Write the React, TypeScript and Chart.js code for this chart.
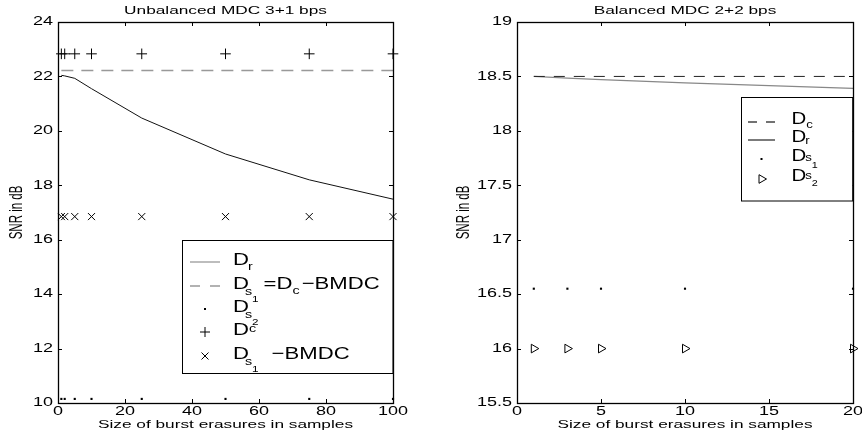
import { useEffect, useRef } from 'react';
import { Chart, registerables } from 'chart.js';
Chart.register(...registerables);

// ---------- data ----------
const xLabel = 'Size of burst erasures in samples';
const yLabel = 'SNR in dB';

const leftTitle = 'Unbalanced MDC 3+1 bps';
const leftBurst = [1, 2, 5, 10, 25, 50, 75, 100];
const leftDr = [22.04, 22.02, 21.93, 21.55, 20.47, 19.15, 18.2, 17.49];
const leftDs1EqDcBMDC = [22.22, 22.22, 22.22, 22.22, 22.22, 22.22, 22.22, 22.22];
const leftDs2 = [10.15, 10.15, 10.15, 10.15, 10.15, 10.15, 10.15, 10.15];
const leftDc = [22.83, 22.83, 22.83, 22.83, 22.83, 22.83, 22.83, 22.83];
const leftDs1BMDC = [16.85, 16.85, 16.85, 16.85, 16.85, 16.85, 16.85, 16.85];
const leftXTicks = [0, 20, 40, 60, 80, 100];
const leftYTicks = [10, 12, 14, 16, 18, 20, 22, 24];
const leftYTickLabels = ['10', '12', '14', '16', '18', '20', '22', '24'];

const rightTitle = 'Balanced MDC 2+2 bps';
const rightBurst = [1, 3, 5, 10, 20];
const rightDc = [18.5, 18.5, 18.5, 18.5, 18.5];
const rightDr = [18.5, 18.485, 18.47, 18.44, 18.39];
const rightDs1 = [16.55, 16.55, 16.55, 16.55, 16.55];
const rightDs2 = [16.0, 16.0, 16.0, 16.0, 16.0];
const rightXTicks = [0, 5, 10, 15, 20];
const rightYTicks = [15.5, 16, 16.5, 17, 17.5, 18, 18.5, 19];
const rightYTickLabels = ['15.5', '16', '16.5', '17', '17.5', '18', '18.5', '19'];

// ---------- helpers ----------
const FONT = '"Liberation Sans", Arial, Helvetica, sans-serif';
const SX = 1.5;

const pts = (xs: number[], ys: number[]) => xs.map((x, i) => ({ x, y: ys[i] }));

function sText(ctx: CanvasRenderingContext2D, s: string, x: number, y: number, size: number, sx: number, align: CanvasTextAlign, base: CanvasTextBaseline) {
  ctx.save();
  ctx.font = `${size}px ${FONT}`;
  ctx.translate(x, y);
  ctx.scale(sx, 1);
  ctx.textAlign = align;
  ctx.textBaseline = base;
  ctx.fillStyle = '#000';
  ctx.fillText(s, 0, 0);
  ctx.restore();
}

type Seg = { t: string; size?: number; dy?: number; dx?: number };
type LegendItem = { kind: 'solid' | 'dashed' | 'dot' | 'plus' | 'x' | 'tri'; color: string; y: number; segs: Seg[]; dash?: number[] };
type LegendCfg = { box: [number, number, number, number]; sampleX: [number, number]; textX: number; baseOff: number; items: LegendItem[]; size: number; sx: number };

function drawLegend(ctx: CanvasRenderingContext2D, lg: LegendCfg) {
  const [l, t, r, b] = lg.box;
  ctx.save();
  ctx.fillStyle = '#fff';
  ctx.fillRect(l, t, r - l, b - t);
  ctx.strokeStyle = '#000';
  ctx.lineWidth = 1;
  ctx.strokeRect(l, t, r - l, b - t);
  const [sx0, sx1] = lg.sampleX;
  const cx = (sx0 + sx1) / 2;
  for (const it of lg.items) {
    ctx.strokeStyle = it.color;
    ctx.fillStyle = it.color;
    ctx.setLineDash([]);
    ctx.lineWidth = 1;
    ctx.beginPath();
    if (it.kind === 'solid' || it.kind === 'dashed') {
      if (it.kind === 'dashed') ctx.setLineDash(it.dash || [10, 10]);
      ctx.lineWidth = 1.3;
      ctx.moveTo(sx0, it.y);
      ctx.lineTo(sx1, it.y);
      ctx.stroke();
    } else if (it.kind === 'dot') {
      ctx.fillRect(cx - 1, it.y - 1, 2, 2);
    } else if (it.kind === 'plus') {
      ctx.moveTo(cx - 5, it.y); ctx.lineTo(cx + 5, it.y);
      ctx.moveTo(cx, it.y - 5); ctx.lineTo(cx, it.y + 5);
      ctx.stroke();
    } else if (it.kind === 'x') {
      ctx.moveTo(cx - 3.5, it.y - 3.5); ctx.lineTo(cx + 3.5, it.y + 3.5);
      ctx.moveTo(cx - 3.5, it.y + 3.5); ctx.lineTo(cx + 3.5, it.y - 3.5);
      ctx.stroke();
    } else if (it.kind === 'tri') {
      ctx.moveTo(cx + 5, it.y);
      ctx.lineTo(cx - 2.5, it.y - 4.3);
      ctx.lineTo(cx - 2.5, it.y + 4.3);
      ctx.closePath();
      ctx.stroke();
    }
    let x = lg.textX;
    const base = it.y + lg.baseOff;
    for (const s of it.segs) {
      const size = s.size ?? lg.size;
      x += s.dx ?? 0;
      ctx.font = `${size}px ${FONT}`;
      const w = ctx.measureText(s.t).width * lg.sx;
      sText(ctx, s.t, x, base + (s.dy ?? 0), size, lg.sx, 'left', 'alphabetic');
      x += w;
    }
  }
  ctx.restore();
}

type PanelCfg = {
  title: string;
  xTicks: number[];
  yTicks: number[];
  yTickLabels: string[];
  yLabelX: number;
  legend: LegendCfg;
};

function makePlugin(cfg: PanelCfg) {
  return {
    id: 'matlabFrame',
    afterDraw(chart: any) {
      const ctx: CanvasRenderingContext2D = chart.ctx;
      const ca = chart.chartArea;
      const xs = chart.scales.x;
      const ys = chart.scales.y;
      ctx.save();
      ctx.strokeStyle = '#000';
      ctx.lineWidth = 1;
      ctx.setLineDash([]);
      ctx.beginPath();
      const TL = 4;
      cfg.xTicks.forEach((v) => {
        const px = Math.round(xs.getPixelForValue(v)) + 0.5;
        ctx.moveTo(px, ca.bottom); ctx.lineTo(px, ca.bottom - TL);
        ctx.moveTo(px, ca.top); ctx.lineTo(px, ca.top + TL);
      });
      cfg.yTicks.forEach((v) => {
        const py = Math.round(ys.getPixelForValue(v)) + 0.5;
        ctx.moveTo(ca.left, py); ctx.lineTo(ca.left + TL, py);
        ctx.moveTo(ca.right, py); ctx.lineTo(ca.right - TL, py);
      });
      ctx.stroke();
      drawLegend(ctx, cfg.legend);
      ctx.lineWidth = 1.3;
      ctx.strokeStyle = '#000';
      ctx.strokeRect(Math.round(ca.left) + 0.5, Math.round(ca.top) + 0.5, Math.round(ca.right - ca.left), Math.round(ca.bottom - ca.top));
      // tick labels
      cfg.xTicks.forEach((v) => {
        sText(ctx, String(v), xs.getPixelForValue(v), ca.bottom + 9, 12, SX, 'center', 'middle');
      });
      cfg.yTicks.forEach((v, i) => {
        sText(ctx, cfg.yTickLabels[i], ca.left - 5, ys.getPixelForValue(v), 12, SX, 'right', 'middle');
      });
      // title & axis labels
      const mid = (ca.left + ca.right) / 2;
      sText(ctx, cfg.title, mid, 14, 11.5, SX, 'center', 'alphabetic');
      sText(ctx, xLabel, mid, 425, 11.5, SX, 'center', 'middle');
      ctx.save();
      ctx.translate(cfg.yLabelX, (ca.top + ca.bottom) / 2);
      ctx.rotate(-Math.PI / 2);
      ctx.scale(1, 1.6);
      ctx.font = `11.5px ${FONT}`;
      ctx.textAlign = 'center';
      ctx.textBaseline = 'middle';
      ctx.fillStyle = '#000';
      ctx.fillText(yLabel, 0, 0);
      ctx.restore();
      ctx.restore();
    },
  };
}

function Panel(props: { left: number; datasets: any[]; xMin: number; xMax: number; yMin: number; yMax: number; padding: any; cfg: PanelCfg }) {
  const ref = useRef<HTMLCanvasElement | null>(null);
  useEffect(() => {
    if (!ref.current) return;
    const chart = new Chart(ref.current, {
      type: 'scatter',
      data: { datasets: props.datasets },
      options: {
        animation: false,
        responsive: false,
        devicePixelRatio: 1,
        layout: { padding: props.padding },
        plugins: { legend: { display: false }, tooltip: { enabled: false }, title: { display: false } },
        scales: {
          x: { type: 'linear', display: false, min: props.xMin, max: props.xMax },
          y: { type: 'linear', display: false, min: props.yMin, max: props.yMax },
        },
      },
      plugins: [makePlugin(props.cfg)],
    } as any);
    return () => chart.destroy();
  }, []);
  return (
    <canvas ref={ref} width={431} height={437} style={{ position: 'absolute', left: props.left, top: 0, width: 431, height: 437 }} />
  );
}

const lineDs = (label: string, xs: number[], ys: number[], color: string, width: number, dash: number[] = []) => ({
  label, data: pts(xs, ys), showLine: true, borderColor: color, borderWidth: width, borderDash: dash, pointRadius: 0, fill: false,
});
const markDs = (label: string, xs: number[], ys: number[], style: string, radius: number, filled: boolean, rotation = 0) => ({
  label, data: pts(xs, ys), showLine: false, pointStyle: style, pointRadius: radius, rotation,
  borderColor: '#000', backgroundColor: filled ? '#000' : 'rgba(0,0,0,0)', borderWidth: filled ? 0 : 1, clip: false,
});

export default function App() {
  const leftDatasets = [
    lineDs('Dr', leftBurst, leftDr, '#111', 1),
    lineDs('Ds1=Dc-BMDC', leftBurst, leftDs1EqDcBMDC, '#999', 1.6, [12, 8]),
    markDs('Ds2', leftBurst, leftDs2, 'rect', 1.5, true),
    markDs('Dc', leftBurst, leftDc, 'cross', 5.3, false),
    markDs('Ds1-BMDC', leftBurst, leftDs1BMDC, 'crossRot', 5, false),
  ];
  const rightDatasets = [
    lineDs('Dc', rightBurst, rightDc, '#222', 1, [11, 9]),
    lineDs('Dr', rightBurst, rightDr, '#888', 1.3),
    markDs('Ds1', rightBurst, rightDs1, 'rect', 1.5, true),
    markDs('Ds2', rightBurst, rightDs2, 'triangle', 5, false, 90),
  ];
  const leftCfg: PanelCfg = {
    title: leftTitle, xTicks: leftXTicks, yTicks: leftYTicks, yTickLabels: leftYTickLabels, yLabelX: 17,
    legend: {
      box: [182.5, 240.5, 393, 373.5], sampleX: [190, 220], textX: 233, baseOff: 2.5, size: 17, sx: 1.3,
      items: [
        { kind: 'solid', color: '#999', y: 262, segs: [{ t: 'D' }, { t: 'r', size: 11, dy: 5, dx: -1 }] },
        { kind: 'dashed', color: '#999', y: 286, dash: [10, 10], segs: [{ t: 'D' }, { t: 's', size: 11, dy: 6, dx: -4 }, { t: '1', size: 9, dy: 13 }, { t: '=', dx: 5 }, { t: 'D' }, { t: 'c', size: 11, dy: 5 }, { t: '\u2212BMDC', dx: 2 }] },
        { kind: 'dot', color: '#000', y: 309, segs: [{ t: 'D' }, { t: 's', size: 11, dy: 6, dx: -4 }, { t: '2', size: 9, dy: 13 }] },
        { kind: 'plus', color: '#000', y: 332, segs: [{ t: 'D' }, { t: 'c', size: 11, dy: -3 }] },
        { kind: 'x', color: '#000', y: 356, segs: [{ t: 'D' }, { t: 's', size: 11, dy: 6, dx: -4 }, { t: '1', size: 9, dy: 13 }, { t: '\u2212BMDC', dx: 13 }] },
      ],
    },
  };
  const rightCfg: PanelCfg = {
    title: rightTitle, xTicks: rightXTicks, yTicks: rightYTicks, yTickLabels: rightYTickLabels, yLabelX: 33,
    legend: {
      box: [310.5, 97.5, 421.7, 201], sampleX: [317, 344], textX: 360.5, baseOff: 2, size: 17, sx: 1.2,
      items: [
        { kind: 'dashed', color: '#444', y: 122, dash: [9, 9], segs: [{ t: 'D' }, { t: 'c', size: 11, dy: 4 }] },
        { kind: 'solid', color: '#333', y: 140, segs: [{ t: 'D' }, { t: 'r', size: 11, dy: 1.5, dx: -1 }] },
        { kind: 'dot', color: '#000', y: 159, segs: [{ t: 'D' }, { t: 's', size: 11, dy: 0, dx: -1 }, { t: '1', size: 9, dy: 7 }] },
        { kind: 'tri', color: '#000', y: 179, segs: [{ t: 'D' }, { t: 's', size: 11, dy: -2, dx: -1 }, { t: '2', size: 9, dy: 5 }] },
      ],
    },
  };
  return (
    <div style={{ position: 'absolute', left: 0, top: 0, width: 862, height: 437, background: '#fff' }}>
      <Panel left={0} datasets={leftDatasets} xMin={0} xMax={100} yMin={10} yMax={24}
        padding={{ left: 58, right: 38, top: 22, bottom: 34 }} cfg={leftCfg} />
      <Panel left={431} datasets={rightDatasets} xMin={0} xMax={20} yMin={15.5} yMax={19}
        padding={{ left: 86, right: 9, top: 22, bottom: 34 }} cfg={rightCfg} />
    </div>
  );
}
